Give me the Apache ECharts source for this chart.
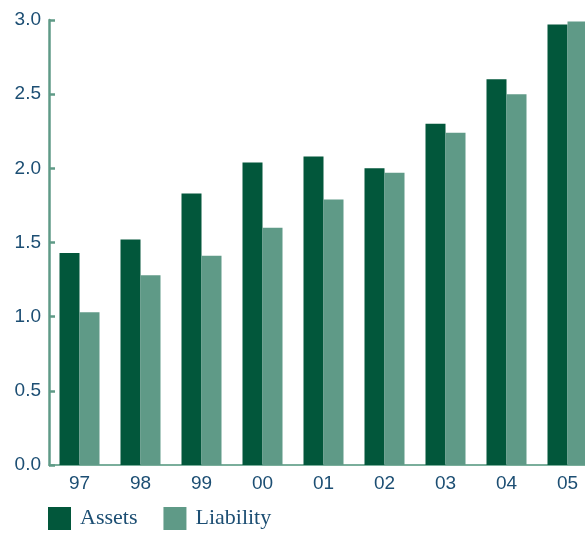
<!DOCTYPE html>
<html>
<head>
<meta charset="utf-8">
<style>
  html, body { margin: 0; padding: 0; background: #ffffff; overflow: hidden; }
  /* canvas is a little wider than the window so the last bars run off the edge */
  #chart { width: 600px; height: 533px; }
</style>
<script src="https://cdn.jsdelivr.net/npm/echarts@6/dist/echarts.min.js"></script>
</head>
<body>
<div id="chart"></div>
<script>
// Years on the category axis
const years = ['97', '98', '99', '00', '01', '02', '03', '04', '05'];
// Series values
const assets = [1.43, 1.52, 1.83, 2.04, 2.08, 2.00, 2.30, 2.60, 2.97];
const liability = [1.03, 1.28, 1.41, 1.60, 1.79, 1.97, 2.24, 2.50, 2.99];
// Value axis range
const yMin = 0;
const yMax = 3;
const yStep = 0.5;

const textBlue = '#1c4e73';
const darkGreen = '#02573b';
const lightGreen = '#5f9a87';
const axisGreen = '#5f9a87';

const chart = echarts.init(document.getElementById('chart'), null, { renderer: 'canvas' });

chart.setOption({
  animation: false,
  backgroundColor: '#ffffff',
  grid: { left: 49, top: 20, width: 549, height: 445, containLabel: false },
  legend: {
    left: 48,
    top: 507,
    padding: 0,
    itemWidth: 23,
    itemHeight: 23,
    itemGap: 26,
    icon: 'rect',
    textStyle: {
      fontFamily: '"Liberation Serif", "Times New Roman", serif',
      fontSize: 22,
      color: textBlue,
      padding: [6, 0, 0, 4]
    },
    data: ['Assets', 'Liability']
  },
  xAxis: {
    type: 'category',
    data: years,
    axisLine: { show: true, lineStyle: { color: '#7aae9b', width: 2 } },
    axisTick: { show: false },
    axisLabel: {
      color: textBlue,
      fontFamily: 'Arial, "Liberation Sans", sans-serif',
      fontSize: 19,
      margin: 9
    }
  },
  yAxis: {
    type: 'value',
    min: yMin,
    max: yMax,
    interval: yStep,
    splitLine: { show: false },
    axisLine: { show: true, lineStyle: { color: axisGreen, width: 2.5 } },
    axisTick: { show: true, inside: true, length: 6, lineStyle: { color: axisGreen, width: 2.5 } },
    axisLabel: {
      color: textBlue,
      fontFamily: 'Arial, "Liberation Sans", sans-serif',
      fontSize: 19,
      margin: 8,
      padding: [0, 0, 5, 0],
      formatter: v => v.toFixed(1)
    }
  },
  series: [
    {
      name: 'Assets',
      type: 'bar',
      data: assets,
      barWidth: 20,
      barGap: '0%',
      itemStyle: { color: darkGreen }
    },
    {
      name: 'Liability',
      type: 'bar',
      data: liability,
      barWidth: 20,
      barGap: '0%',
      itemStyle: { color: lightGreen }
    }
  ]
});
</script>
</body>
</html>
